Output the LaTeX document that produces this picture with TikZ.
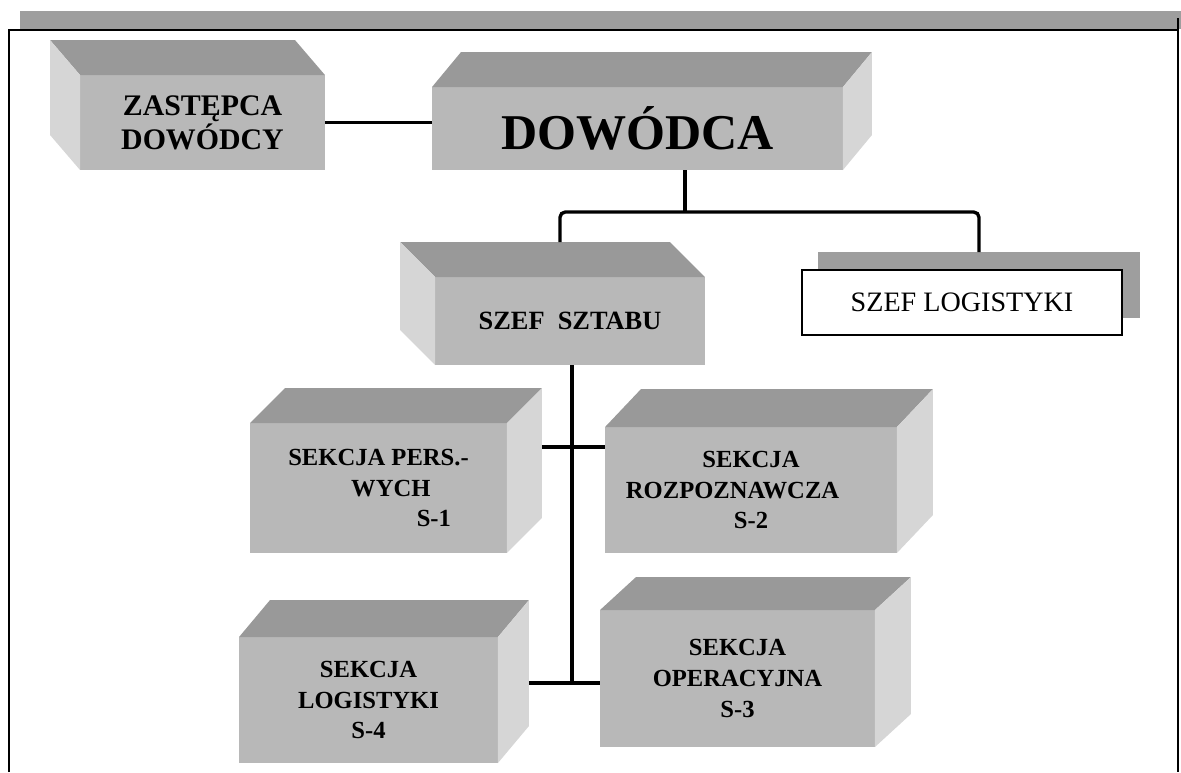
\documentclass[tikz,border=0pt]{standalone}
\usepackage{fontspec}
\setmainfont{Liberation Serif}
\usetikzlibrary{calc}

\definecolor{facefront}{gray}{0.72}
\definecolor{facetop}{gray}{0.6}
\definecolor{faceside}{gray}{0.84}
\definecolor{bandgray}{gray}{0.62}

\tikzset{
  blockfront/.style={fill=facefront, inner sep=0pt, outer sep=0pt, align=center,
    font=\bfseries\fontsize{14}{17.5}\selectfont},
  topface/.style={fill=facetop},
  sideface/.style={fill=faceside},
  conn/.style={line width=1.9pt},
  frameline/.style={line width=1.1pt},
}

\begin{document}
\begin{tikzpicture}[x=0.02cm,y=-0.02cm]
    \useasboundingbox (0,0) rectangle (1181,772);
    % ramka
    \fill[bandgray] (20,11) rectangle (1181,29);
    \draw[frameline] (9,772) -- (9,30) -- (1178,30);
    \draw[frameline] (1178,18) -- (1178,772);

    % dowodca i zastepca
    \node[blockfront, minimum width=4.9cm, minimum height=1.9cm,
      font=\bfseries\fontsize{17}{19.5}\selectfont] (zast) at (202.5,122.5) {ZASTĘPCA\\DOWÓDCY};
    \fill[topface] (zast.north east) -- ++(-30,-35) -- ($(zast.north west)+(-30,-35)$) -- (zast.north west) -- cycle;
    \fill[sideface] (zast.north west) -- ++(-30,-35) -- ($(zast.south west)+(-30,-35)$) -- (zast.south west) -- cycle;

    \node[blockfront, minimum width=8.22cm, minimum height=1.66cm,
      font=\bfseries\fontsize{28.5}{30}\selectfont] (dow) at (637.5,128.5) {DOWÓDCA};
    \fill[topface] (dow.north west) -- ++(29,-35) -- ($(dow.north east)+(29,-35)$) -- (dow.north east) -- cycle;
    \fill[sideface] (dow.north east) -- ++(29,-35) -- ($(dow.south east)+(29,-35)$) -- (dow.south east) -- cycle;

    % szef sztabu
    \node[blockfront, minimum width=5.4cm, minimum height=1.76cm,
      font=\bfseries\fontsize{15}{18}\selectfont] (sztab) at (570,321) {SZEF\ \ SZTABU};
    \fill[topface] (sztab.north east) -- ++(-35,-35) -- ($(sztab.north west)+(-35,-35)$) -- (sztab.north west) -- cycle;
    \fill[sideface] (sztab.north west) -- ++(-35,-35) -- ($(sztab.south west)+(-35,-35)$) -- (sztab.south west) -- cycle;

    % szef logistyki
    \node[fill=bandgray, minimum width=6.44cm, minimum height=1.32cm, inner sep=0pt, outer sep=0pt] (logshadow) at (979,285) {};
    \node[draw, line width=1.2pt, fill=white, minimum width=6.4cm, minimum height=1.3cm, inner sep=0pt,
      font=\fontsize{16}{18}\selectfont] (szeflog) at ($(logshadow)+(-17,17.5)$) {SZEF LOGISTYKI};

    % sekcje
    \node[blockfront, minimum width=5.14cm, minimum height=2.6cm] (s1) at (378.5,488)
      {SEKCJA PERS.-\\\hspace*{1em}WYCH\\\hspace*{4.5em}S-1};
    \fill[topface] (s1.north west) -- ++(35,-35) -- ($(s1.north east)+(35,-35)$) -- (s1.north east) -- cycle;
    \fill[sideface] (s1.north east) -- ++(35,-35) -- ($(s1.south east)+(35,-35)$) -- (s1.south east) -- cycle;

    \node[blockfront, minimum width=5.84cm, minimum height=2.52cm] (s2) at (751,490)
      {SEKCJA\\ROZPOZNAWCZA\hspace*{1.5em}\mbox{}\\S-2};
    \fill[topface] (s2.north west) -- ++(36,-38) -- ($(s2.north east)+(36,-38)$) -- (s2.north east) -- cycle;
    \fill[sideface] (s2.north east) -- ++(36,-38) -- ($(s2.south east)+(36,-38)$) -- (s2.south east) -- cycle;

    \node[blockfront, minimum width=5.18cm, minimum height=2.52cm] (s4) at (368.5,700)
      {SEKCJA\\LOGISTYKI\\S-4};
    \fill[topface] (s4.north west) -- ++(31,-37) -- ($(s4.north east)+(31,-37)$) -- (s4.north east) -- cycle;
    \fill[sideface] (s4.north east) -- ++(31,-37) -- ($(s4.south east)+(31,-37)$) -- (s4.south east) -- cycle;

    \node[blockfront, minimum width=5.5cm, minimum height=2.74cm] (s3) at (737.5,678.5)
      {SEKCJA\\OPERACYJNA\\S-3};
    \fill[topface] (s3.north west) -- ++(36,-33) -- ($(s3.north east)+(36,-33)$) -- (s3.north east) -- cycle;
    \fill[sideface] (s3.north east) -- ++(36,-33) -- ($(s3.south east)+(36,-33)$) -- (s3.south east) -- cycle;

    % polaczenia
    \coordinate (fork) at (685,212);
    \coordinate (midA) at (572,447);
    \coordinate (midB) at (572,683);
    \draw[conn] (zast.east) -- (zast.east -| dow.west);
    \draw[conn] (dow.south -| fork) -- (fork);
    \draw[conn, rounded corners=3pt] ($(sztab.north)+(-10,-35)$) |- (fork) -| (logshadow.north);
    \draw[conn] (sztab.south -| midA) -- (midB);
    \draw[conn] ($(s1.east |- midA)+(35,0)$) -- (s2.west |- midA);
    \draw[conn] ($(s4.east |- midB)+(31,0)$) -- (s3.west |- midB);
\end{tikzpicture}
\end{document}
